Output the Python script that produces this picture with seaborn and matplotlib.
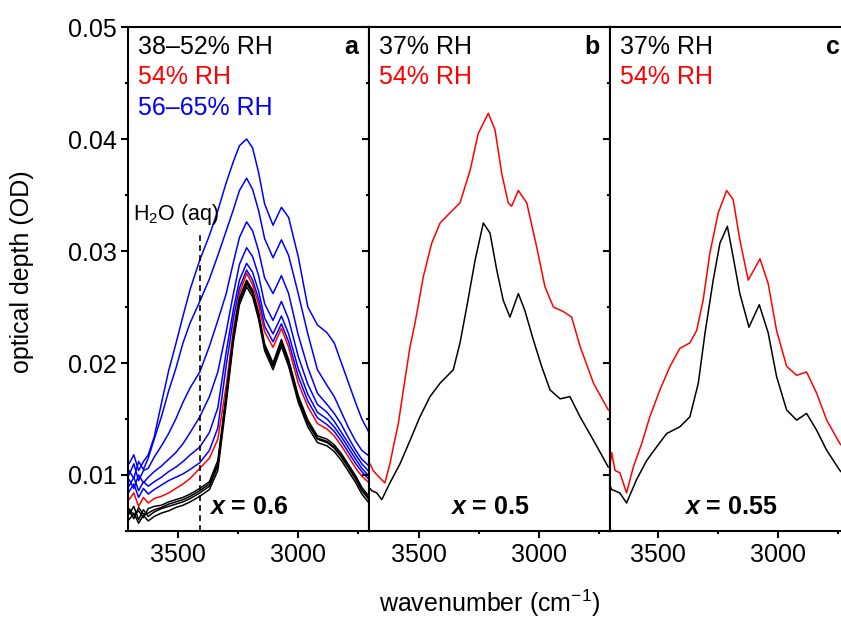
import matplotlib
matplotlib.use("Agg")
import matplotlib.pyplot as plt
import seaborn as sns
import pandas as pd
from matplotlib.ticker import MultipleLocator, FormatStrFormatter

# --- panel a: x = 0.6, RH series ---
wn_a = [3705, 3685, 3665, 3645, 3625, 3600, 3570, 3540, 3510, 3480, 3450, 3410,
        3370, 3335, 3300, 3270, 3245, 3215, 3190, 3165, 3140, 3105, 3070, 3040,
        3000, 2960, 2920, 2880, 2850, 2820, 2790, 2760, 2735, 2705]

blue_a_6 = [0.0110, 0.0118, 0.0104, 0.0112, 0.0118, 0.0134, 0.0164, 0.0193, 0.0217, 0.0242, 0.0266, 0.0292,
            0.0314, 0.0336, 0.0361, 0.0380, 0.0394, 0.0400, 0.0392, 0.0370, 0.0342, 0.0323, 0.0339, 0.0330,
            0.0295, 0.0250, 0.0234, 0.0227, 0.0218, 0.0200, 0.0182, 0.0164, 0.0150, 0.0138]
blue_a_5 = [0.0104, 0.0097, 0.0112, 0.0105, 0.0115, 0.0132, 0.0152, 0.0175, 0.0195, 0.0218, 0.0236, 0.0255,
            0.0275, 0.0296, 0.0318, 0.0337, 0.0354, 0.0365, 0.0355, 0.0336, 0.0311, 0.0294, 0.0310, 0.0296,
            0.0262, 0.0226, 0.0194, 0.0180, 0.0170, 0.0156, 0.0142, 0.0130, 0.0122, 0.0117]
blue_a_4 = [0.0100, 0.0110, 0.0095, 0.0104, 0.0106, 0.0116, 0.0126, 0.0137, 0.0150, 0.0165, 0.0178, 0.0192,
            0.0215, 0.0238, 0.0262, 0.0290, 0.0312, 0.0326, 0.0318, 0.0300, 0.0276, 0.0262, 0.0278, 0.0262,
            0.0225, 0.0196, 0.0173, 0.0163, 0.0155, 0.0145, 0.0133, 0.0122, 0.0114, 0.0108]
blue_a_3 = [0.0096, 0.0088, 0.0100, 0.0093, 0.0098, 0.0103, 0.0108, 0.0114, 0.0120, 0.0128, 0.0138, 0.0152,
            0.0170, 0.0192, 0.0228, 0.0262, 0.0288, 0.0303, 0.0295, 0.0278, 0.0253, 0.0238, 0.0255, 0.0239,
            0.0206, 0.0181, 0.0163, 0.0156, 0.0148, 0.0138, 0.0128, 0.0118, 0.0110, 0.0103]
blue_a_2 = [0.0090, 0.0098, 0.0086, 0.0094, 0.0090, 0.0094, 0.0098, 0.0103, 0.0107, 0.0112, 0.0118, 0.0125,
            0.0138, 0.0160, 0.0210, 0.0248, 0.0274, 0.0289, 0.0281, 0.0264, 0.0240, 0.0226, 0.0242, 0.0226,
            0.0195, 0.0172, 0.0156, 0.0150, 0.0143, 0.0134, 0.0124, 0.0114, 0.0106, 0.0099]
blue_a_1 = [0.0085, 0.0092, 0.0080, 0.0088, 0.0083, 0.0087, 0.0091, 0.0095, 0.0098, 0.0101, 0.0105, 0.0111,
            0.0122, 0.0142, 0.0198, 0.0240, 0.0267, 0.0283, 0.0274, 0.0257, 0.0233, 0.0219, 0.0235, 0.0219,
            0.0188, 0.0166, 0.0151, 0.0145, 0.0139, 0.0130, 0.0120, 0.0110, 0.0103, 0.0096]
red_a = [0.0078, 0.0084, 0.0072, 0.0080, 0.0075, 0.0079, 0.0081, 0.0084, 0.0088, 0.0092, 0.0097, 0.0106,
         0.0115, 0.0132, 0.0180, 0.0230, 0.0262, 0.0280, 0.0270, 0.0252, 0.0228, 0.0214, 0.0231, 0.0214,
         0.0182, 0.0161, 0.0146, 0.0141, 0.0135, 0.0126, 0.0116, 0.0106, 0.0099, 0.0093]
black_a_1 = [0.0065, 0.0072, 0.0060, 0.0069, 0.0063, 0.0067, 0.0070, 0.0072, 0.0074, 0.0076, 0.0079, 0.0084,
             0.0090, 0.0108, 0.0168, 0.0222, 0.0255, 0.0271, 0.0262, 0.0242, 0.0214, 0.0197, 0.0218, 0.0200,
             0.0168, 0.0146, 0.0132, 0.0129, 0.0124, 0.0116, 0.0106, 0.0096, 0.0086, 0.0078]
black_a_2 = [0.0070, 0.0064, 0.0068, 0.0062, 0.0070, 0.0072, 0.0073, 0.0076, 0.0078, 0.0080, 0.0083, 0.0088,
             0.0094, 0.0113, 0.0172, 0.0225, 0.0258, 0.0274, 0.0265, 0.0245, 0.0217, 0.0200, 0.0221, 0.0203,
             0.0171, 0.0149, 0.0135, 0.0132, 0.0127, 0.0119, 0.0109, 0.0099, 0.0089, 0.0081]
black_a_3 = [0.0060, 0.0066, 0.0057, 0.0064, 0.0059, 0.0063, 0.0066, 0.0068, 0.0071, 0.0073, 0.0076, 0.0081,
             0.0087, 0.0104, 0.0164, 0.0219, 0.0252, 0.0268, 0.0259, 0.0239, 0.0211, 0.0194, 0.0215, 0.0197,
             0.0165, 0.0143, 0.0129, 0.0126, 0.0121, 0.0113, 0.0103, 0.0093, 0.0083, 0.0075]
black_a_4 = [0.0068, 0.0061, 0.0071, 0.0065, 0.0066, 0.0069, 0.0071, 0.0074, 0.0076, 0.0078, 0.0081, 0.0086,
             0.0092, 0.0110, 0.0170, 0.0223, 0.0256, 0.0272, 0.0263, 0.0243, 0.0215, 0.0198, 0.0219, 0.0201,
             0.0169, 0.0147, 0.0133, 0.0130, 0.0125, 0.0117, 0.0107, 0.0097, 0.0087, 0.0079]

# --- panel b: x = 0.5 ---
wn_b_red = [3703, 3690, 3665, 3641, 3620, 3606, 3585, 3564, 3536, 3516, 3481, 3446, 3411, 3370,
            3328, 3286, 3252, 3210, 3182, 3154, 3127, 3113, 3085, 3050, 3009, 2974, 2939, 2898,
            2863, 2828, 2772, 2710]
red_b = [0.0110, 0.0104, 0.0098, 0.0093, 0.0110, 0.0125, 0.0146, 0.0176, 0.0215, 0.0235, 0.0277, 0.0307,
         0.0325, 0.0334, 0.0343, 0.0372, 0.0405, 0.0423, 0.0408, 0.0369, 0.0343, 0.0340, 0.0354, 0.0343,
         0.0304, 0.0268, 0.0250, 0.0246, 0.0241, 0.0215, 0.0182, 0.0158]
wn_b_black = [3703, 3696, 3675, 3654, 3620, 3578, 3536, 3495, 3453, 3411, 3356, 3328, 3300, 3265,
              3231, 3203, 3175, 3148, 3120, 3085, 3058, 3023, 2988, 2953, 2911, 2870, 2828, 2772, 2710]
black_b = [0.0088, 0.0086, 0.0084, 0.0078, 0.0093, 0.0110, 0.0131, 0.0152, 0.0170, 0.0182, 0.0194, 0.0218,
           0.0250, 0.0292, 0.0325, 0.0316, 0.0283, 0.0256, 0.0241, 0.0262, 0.0247, 0.0221, 0.0197, 0.0176,
           0.0168, 0.0170, 0.0152, 0.0131, 0.0107]

# --- panel c: x = 0.55 ---
wn_c_red = [3700, 3694, 3680, 3660, 3632, 3604, 3569, 3535, 3493, 3451, 3410, 3368, 3340, 3313,
            3285, 3250, 3215, 3188, 3160, 3125, 3076, 3042, 3007, 2965, 2923, 2882, 2840, 2798, 2743, 2700]
red_c = [0.0110, 0.0120, 0.0104, 0.0102, 0.0084, 0.0107, 0.0128, 0.0152, 0.0176, 0.0197, 0.0213, 0.0218,
         0.0229, 0.0256, 0.0298, 0.0334, 0.0354, 0.0346, 0.0310, 0.0274, 0.0293, 0.0271, 0.0229, 0.0197,
         0.0189, 0.0192, 0.0173, 0.0149, 0.0128, 0.0118]
wn_c_black = [3700, 3694, 3660, 3632, 3590, 3548, 3507, 3465, 3410, 3368, 3333, 3305, 3271, 3243,
              3212, 3188, 3160, 3122, 3079, 3042, 3007, 2965, 2923, 2882, 2840, 2798, 2743, 2700]
black_c = [0.0090, 0.0087, 0.0084, 0.0075, 0.0096, 0.0113, 0.0125, 0.0137, 0.0143, 0.0152, 0.0182, 0.0227,
           0.0274, 0.0307, 0.0322, 0.0295, 0.0262, 0.0232, 0.0252, 0.0227, 0.0188, 0.0158, 0.0149, 0.0155,
           0.0140, 0.0122, 0.0104, 0.0095]

legend_a = ["38\u201352% RH", "54% RH", "56\u201365% RH"]
legend_bc = ["37% RH", "54% RH"]
panel_letters = ["a", "b", "c"]
composition = ["0.6", "0.5", "0.55"]
h2o_line_wn = 3410

BLACK, RED, BLUE = "#000000", "#ff0000", "#0000ff"


def long_frame(pairs):
    frames = []
    for name, wn, od in pairs:
        frames.append(pd.DataFrame({"wavenumber": wn, "od": od, "series": name}))
    return pd.concat(frames, ignore_index=True)


sns.set_theme(style="ticks")
plt.rcParams["font.family"] = ["Liberation Sans", "DejaVu Sans"]
plt.rcParams["text.color"] = BLACK
plt.rcParams["axes.labelcolor"] = BLACK
plt.rcParams["xtick.color"] = BLACK
plt.rcParams["ytick.color"] = BLACK
plt.rcParams["mathtext.fontset"] = "custom"
plt.rcParams["mathtext.rm"] = "Liberation Sans"
plt.rcParams["mathtext.it"] = "Liberation Sans:italic"
plt.rcParams["mathtext.bf"] = "Liberation Sans:bold"
try:
    plt.rcParams["mathtext.bfit"] = "Liberation Sans:italic:bold"
except KeyError:
    pass

fig = plt.figure(figsize=(8.41, 6.19), dpi=100)
W, H = 841, 619
bottom = 1 - 531 / H
height = (531 - 27) / H
px_per_wn = 0.24
panel_w = 241
lefts = [128.3, 369.3, 610.0]
x_starts = [3708, 3706, 3701]
axes = [fig.add_axes([l / W, bottom, panel_w / W, height]) for l in lefts]

# panel a
df_a = long_frame([
    ("b1", wn_a, blue_a_1), ("b2", wn_a, blue_a_2), ("b3", wn_a, blue_a_3),
    ("b4", wn_a, blue_a_4), ("b5", wn_a, blue_a_5), ("b6", wn_a, blue_a_6),
    ("r", wn_a, red_a),
    ("k1", wn_a, black_a_1), ("k2", wn_a, black_a_2), ("k3", wn_a, black_a_3), ("k4", wn_a, black_a_4),
])
pal_a = {f"b{i}": BLUE for i in range(1, 7)}
pal_a.update({"r": RED})
pal_a.update({f"k{i}": BLACK for i in range(1, 5)})
sns.lineplot(data=df_a, x="wavenumber", y="od", hue="series", palette=pal_a,
             hue_order=list(pal_a.keys()), legend=False, ax=axes[0], linewidth=1.1,
             estimator=None)

df_b = long_frame([("r", wn_b_red, red_b), ("k", wn_b_black, black_b)])
sns.lineplot(data=df_b, x="wavenumber", y="od", hue="series", palette={"r": RED, "k": BLACK},
             hue_order=["r", "k"], legend=False, ax=axes[1], linewidth=1.1, estimator=None)

df_c = long_frame([("r", wn_c_red, red_c), ("k", wn_c_black, black_c)])
sns.lineplot(data=df_c, x="wavenumber", y="od", hue="series", palette={"r": RED, "k": BLACK},
             hue_order=["r", "k"], legend=False, ax=axes[2], linewidth=1.1, estimator=None)

# H2O (aq) marker
axes[0].plot([h2o_line_wn, h2o_line_wn], [0.005, 0.0318], color=BLACK, lw=1.2, ls=(0, (3.5, 2.5)))
axes[0].text(3688, 0.0328, r"H$_2$O (aq)", fontsize=15.5, ha="left", va="baseline")

for i, ax in enumerate(axes):
    ax.set_xlim(x_starts[i], x_starts[i] - panel_w / px_per_wn)
    ax.set_ylim(0.005, 0.05)
    ax.xaxis.set_major_locator(MultipleLocator(500))
    ax.xaxis.set_minor_locator(MultipleLocator(250))
    ax.yaxis.set_major_locator(MultipleLocator(0.01))
    ax.yaxis.set_minor_locator(MultipleLocator(0.005))
    ax.set_xlabel("")
    ax.set_ylabel("")
    for s in ax.spines.values():
        s.set_visible(True)
        s.set_linewidth(1.5)
        s.set_color(BLACK)
    ax.tick_params(axis="both", which="both", direction="out", colors=BLACK,
                   width=1.5, left=True, right=True, bottom=True, top=False, labelsize=18)
    ax.tick_params(which="major", length=5)
    ax.tick_params(which="minor", length=2.5)
    if i > 0:
        ax.tick_params(labelleft=False)
    ax.set_facecolor("white")
    ax.text(0.955, 0.961, panel_letters[i], transform=ax.transAxes, fontsize=18,
            fontweight="bold", ha="right", va="center", color=BLACK)
    ax.text(0.5, 0.047, r"$\mathbfit{x}$ = " + composition[i], transform=ax.transAxes,
            fontsize=18, fontweight="bold", ha="center", va="center", color=BLACK)

axes[0].yaxis.set_major_formatter(FormatStrFormatter("%.2f"))

ys = [0.961, 0.901, 0.839]
for txt, col, y in zip(legend_a, [BLACK, RED, BLUE], ys):
    axes[0].text(0.042, y, txt, color=col, fontsize=18, transform=axes[0].transAxes,
                 ha="left", va="center")
for ax in axes[1:]:
    for txt, col, y in zip(legend_bc, [BLACK, RED], ys):
        ax.text(0.042, y, txt, color=col, fontsize=18, transform=ax.transAxes,
                ha="left", va="center")

fig.text(22 / W, 1 - 272 / H, "optical depth (OD)", rotation=90, fontsize=18,
         ha="center", va="center")
fig.text(490 / W, 1 - 603 / H, r"wavenumber (cm$^{\mathregular{-1}}$)", fontsize=18,
         ha="center", va="center")

fig.savefig("out.png", dpi=100, facecolor="white")
